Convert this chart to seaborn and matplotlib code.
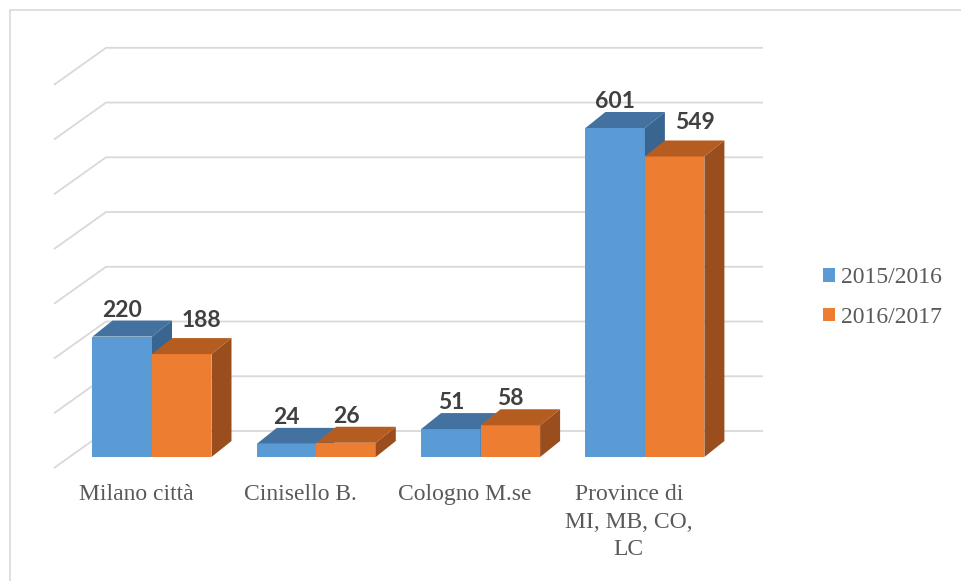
import numpy as np
import pandas as pd
import matplotlib
matplotlib.use("Agg")
import matplotlib.pyplot as plt
from matplotlib.patches import Polygon, Patch, Rectangle
import seaborn as sns

# ---------------- data ----------------
categories = ["Milano città", "Cinisello B.", "Cologno M.se", "Province di\nMI, MB, CO,\nLC"]
series_names = ["2015/2016", "2016/2017"]
values_2015 = [220, 24, 51, 601]
values_2016 = [188, 26, 58, 549]
grid_values = list(range(0, 701, 100))

# ---------------- style / layout ----------------
W, H = 962, 581
X0_PX, CAT_PX = 152.0, 164.3        # pixel x of first category, pixels per category
Y0_PX, UNIT_PX = 457.0, 0.5474      # pixel y (from top) of value 0, pixels per unit
BAR_DX, BAR_DY = 20.0, 16.0         # bar depth in pixels
FRONT_X_PX, BACK_X_PX, RIGHT_X_PX = 54.0, 106.0, 763.0
FRONT_DY_PX, BACK_DY_PX = 11.0, -26.0
front_cols = ["#5B9BD5", "#ED7D31"]
top_cols = ["#4472A0", "#B55D21"]
side_cols = ["#3A6591", "#9A4E1D"]
grid_col = "#D9D9D9"

sns.set_theme(style="white")
plt.rcParams["font.family"] = ["DejaVu Sans"]

df = pd.DataFrame({
    "cat": categories * 2,
    "val": values_2015 + values_2016,
    "series": [series_names[0]] * 4 + [series_names[1]] * 4,
})

fig = plt.figure(figsize=(W / 100, H / 100), dpi=100)
ax = fig.add_axes([0, 0, 1, 1])
sns.barplot(data=df, x="cat", y="val", hue="series", order=categories,
            hue_order=series_names, palette=front_cols, width=2 * 59.5 / CAT_PX,
            gap=0, errorbar=None, legend=False, linewidth=0, saturation=1, ax=ax)

ax.set_xlim(-X0_PX / CAT_PX, (W - X0_PX) / CAT_PX)
ax.set_ylim((Y0_PX - H) / UNIT_PX, Y0_PX / UNIT_PX)
ax.axis("off")

def px2x(px):
    return (px - X0_PX) / CAT_PX

dx = BAR_DX / CAT_PX
dy = BAR_DY / UNIT_PX

# back wall gridlines with oblique left edges
for v in grid_values:
    yf = v - FRONT_DY_PX / UNIT_PX
    yb = v - BACK_DY_PX / UNIT_PX
    ax.plot([px2x(FRONT_X_PX), px2x(BACK_X_PX), px2x(RIGHT_X_PX)], [yf, yb, yb],
            color=grid_col, lw=1.3, zorder=0.5, solid_capstyle="butt")

# 3D faces + labels
for j, cont in enumerate(ax.containers):
    vals = [values_2015, values_2016][j]
    for i, p in enumerate(cont.patches):
        x0 = p.get_x()
        x1 = x0 + p.get_width()
        h = p.get_height()
        z = 2 + j
        p.set_zorder(z)
        ax.add_patch(Polygon([(x0, h), (x1, h), (x1 + dx, h + dy), (x0 + dx, h + dy)],
                             closed=True, facecolor=top_cols[j], edgecolor="none", zorder=z))
        ax.add_patch(Polygon([(x1, 0), (x1 + dx, dy), (x1 + dx, h + dy), (x1, h)],
                             closed=True, facecolor=side_cols[j], edgecolor="none", zorder=z))
        cx = (x0 + x1) / 2
        raise_px = 4
        if j == 1 and values_2015[i] > vals[i]:
            cx += 20 / CAT_PX
            raise_px = 11
        ax.text(cx, h + dy + raise_px / UNIT_PX, f"{vals[i]}", ha="center", va="baseline",
                fontsize=16.5, fontweight="bold", family=["Lato", "DejaVu Sans"],
                color="#404040", zorder=10)

# category labels
for i, c in enumerate(categories):
    ax.text(i - 16 / CAT_PX, (Y0_PX - 484) / UNIT_PX, c, ha="center", va="top",
            fontsize=17, family=["Liberation Serif", "DejaVu Serif"], color="#595959",
            linespacing=1.42, multialignment="center")

# legend
handles = [Patch(facecolor=c, edgecolor="none") for c in front_cols]
leg = ax.legend(handles, series_names, loc="center left",
                bbox_to_anchor=(811 / W, 1 - 297.5 / H), bbox_transform=fig.transFigure,
                frameon=False, borderpad=0, handlelength=0.52, handleheight=0.52,
                handletextpad=0.25, labelspacing=0.8,
                prop={"family": ["Liberation Serif"], "size": 17})
for t in leg.get_texts():
    t.set_color("#595959")

# outer border
fig.patches.append(Rectangle((10 / W, -0.1), 1.2, 1 - 10 / H + 0.1, transform=fig.transFigure,
                             facecolor="none", edgecolor=grid_col, lw=1.2))

fig.savefig("out.png", dpi=100)
